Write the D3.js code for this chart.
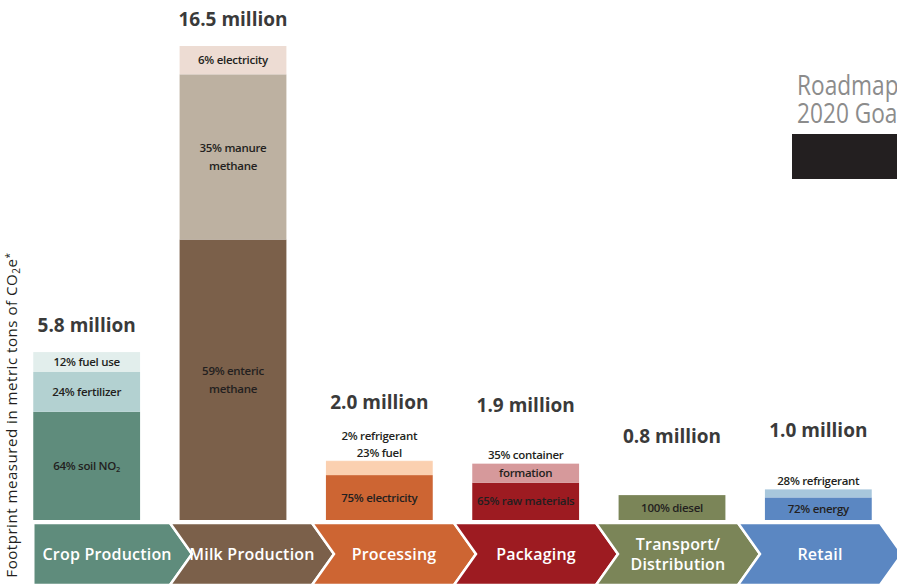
<!DOCTYPE html>
<html>
<head>
<meta charset="utf-8">
<script src="https://cdn.jsdelivr.net/npm/d3@7"></script>
<style>
  html, body { margin: 0; padding: 0; background: #ffffff; }
  svg { display: block; font-family: "Open Sans", "Noto Sans", sans-serif; }
</style>
</head>
<body>
<svg id="chart" width="897" height="586"></svg>
<script>
// Supply-chain stages, left to right
const stages = ["Crop Production", "Milk Production", "Processing", "Packaging", "Transport/Distribution", "Retail"];
const stageLabels = [["Crop Production"], ["Milk Production"], ["Processing"], ["Packaging"], ["Transport/", "Distribution"], ["Retail"]];

// Footprint per stage, million metric tons CO2e
const totals = [5.8, 16.5, 2.0, 1.9, 0.8, 1.0];

// Share of each stage's footprint by source, listed bottom to top (%)
const segmentShares = [
  [64, 24, 12],
  [59, 35, 6],
  [75, 23, 2],
  [65, 35],
  [100],
  [72, 28]
];
// Source names; "|" breaks a line, "_2" is a subscript 2
const segmentNames = [
  ["soil NO_2", "fertilizer", "fuel use"],
  ["enteric|methane", "manure|methane", "electricity"],
  ["electricity", "fuel", "refrigerant"],
  ["raw materials", "container|formation"],
  ["diesel"],
  ["energy", "refrigerant"]
];

const goalLines = ["Roadmap", "2020 Goal"];

// Fill colours, same nesting as the shares
const segmentColors = [
  ["#5f8c7c", "#b3d1d1", "#e2eeec"],
  ["#7b604a", "#bdb1a1", "#eddcd3"],
  ["#cd6533", "#fbd0b0", "#fbd0b0"],
  ["#9d1b21", "#d6999b"],
  ["#7b8558"],
  ["#5b87c2", "#a8c7dc"]
];
const stageColors = ["#5f8c7c", "#7b604a", "#cd6533", "#9d1b21", "#7b8558", "#5b87c2"];

const svg = d3.select("#chart");
const textDark = "#231f20";

const x = d3.scaleBand()
  .domain(stages)
  .range([13.5, 891.5])
  .paddingInner(0.27)
  .paddingOuter(0.135);

const y = d3.scaleLinear().domain([0, 16.5]).range([518, 46]);
const barBottom = y(0) + 2;

// ---- stacked bars ----
const barG = svg.append("g");
const fmt = d3.format(".1f");

stages.forEach((stage, i) => {
  const x0 = x(stage), bw = x.bandwidth(), cx = x0 + bw / 2;
  const total = totals[i];
  let cum = 0;
  const segs = segmentShares[i].map((s, j) => {
    const v0 = total * cum / 100;
    cum += s;
    const v1 = total * cum / 100;
    return {
      share: s, name: segmentNames[i][j], color: segmentColors[i][j],
      top: y(v1), bottom: j === 0 ? barBottom : y(v0)
    };
  });

  barG.selectAll(null).data(segs).enter().append("rect")
    .attr("x", x0)
    .attr("width", bw)
    .attr("y", d => d.top)
    .attr("height", d => d.bottom - d.top)
    .attr("fill", d => d.color);

  const barTop = y(total);
  const lineH = 18;
  const outside = [];

  segs.forEach(d => {
    const lines = d.name.split("|");
    lines[0] = d.share + "% " + lines[0];
    const h = d.bottom - d.top;
    if (h < 16) { outside.push(lines); return; }
    const mid = (d.top + d.bottom) / 2;
    let firstY;
    if (lines.length * lineH <= h) firstY = mid - (lines.length - 1) * lineH / 2;
    else firstY = mid - (lines.length - 1) * lineH;
    lines.forEach((ln, k) => drawSmall(barG, cx, firstY + k * lineH, ln));
  });

  // labels of thin slices sit above the bar, topmost slice first
  const ext = outside.reverse().flat();
  ext.forEach((ln, k) => {
    const cyy = barTop - 8 - (ext.length - 1 - k) * 17;
    drawSmall(barG, cx, cyy, ln);
  });

  // stage total
  const gap = (barBottom - barTop) > 100 ? 20 : 52;
  barG.append("text")
    .attr("x", cx)
    .attr("y", barTop - gap)
    .attr("text-anchor", "middle")
    .attr("font-size", 19)
    .attr("font-weight", 700)
    .attr("fill", "#3a3a3a")
    .text(fmt(total) + " million");
});

function drawSmall(g, cx, cy, str) {
  const t = g.append("text")
    .attr("x", cx)
    .attr("y", cy)
    .attr("dy", "0.35em")
    .attr("text-anchor", "middle")
    .attr("font-size", 11.5)
    .attr("font-weight", 600)
    .attr("letter-spacing", -0.3)
    .attr("fill", textDark);
  const parts = str.split("_2");
  parts.forEach((p, k) => {
    t.append("tspan").text(p);
    if (k < parts.length - 1) {
      t.append("tspan").attr("font-size", 7.5).attr("baseline-shift", "-25%").text("2");
    }
  });
}

// ---- process flow chevrons ----
const flowX = d3.scaleLinear().domain([0, 6]).range([28, 880]);
const aTop = 523, aBot = 585, aMid = (aTop + aBot) / 2, tip = 22;
const flowG = svg.append("g");

stages.forEach((stage, i) => {
  const left = i === 0 ? x(stages[0]) : flowX(i);
  const right = flowX(i + 1);
  const pts = [[left, aTop], [right, aTop], [right + tip, aMid], [right, aBot], [left, aBot]];
  if (i > 0) pts.push([left + tip, aMid]);
  flowG.append("path")
    .attr("d", d3.line()(pts) + "Z")
    .attr("fill", stageColors[i])
    .attr("stroke", "#ffffff")
    .attr("stroke-width", 2.5)
    .attr("stroke-linejoin", "miter");

  const lcx = (left + right) / 2 + (i === 0 ? tip / 4 : tip / 2);
  const lines = stageLabels[i];
  lines.forEach((ln, k) => {
    flowG.append("text")
      .attr("x", lcx)
      .attr("y", aMid + (k - (lines.length - 1) / 2) * 20)
      .attr("dy", "0.35em")
      .attr("text-anchor", "middle")
      .attr("font-size", 16)
      .attr("font-weight", 600)
      .attr("letter-spacing", 0.2)
      .attr("fill", "#ffffff")
      .text(ln);
  });
});

// ---- y axis title ----
const yt = svg.append("text")
  .attr("transform", "translate(16.5,415) rotate(-90)")
  .attr("text-anchor", "middle")
  .attr("font-size", 15)
  .attr("letter-spacing", 0.55)
  .attr("fill", textDark);
yt.append("tspan").text("Footprint measured in metric tons of CO");
yt.append("tspan").attr("font-size", 10).attr("baseline-shift", "-25%").text("2");
yt.append("tspan").text("e");
yt.append("tspan").attr("font-size", 10).attr("baseline-shift", "45%").text("*");

// ---- roadmap goal panel ----
goalLines.forEach((ln, k) => {
  svg.append("text")
    .attr("transform", `translate(797,${95 + k * 28}) scale(0.84,1)`)
    .attr("font-size", 27)
    .attr("fill", "#8c8c8c")
    .text(ln);
});
svg.append("rect")
  .attr("x", 792).attr("y", 134)
  .attr("width", 110).attr("height", 45)
  .attr("fill", "#231f20");
</script>
</body>
</html>
